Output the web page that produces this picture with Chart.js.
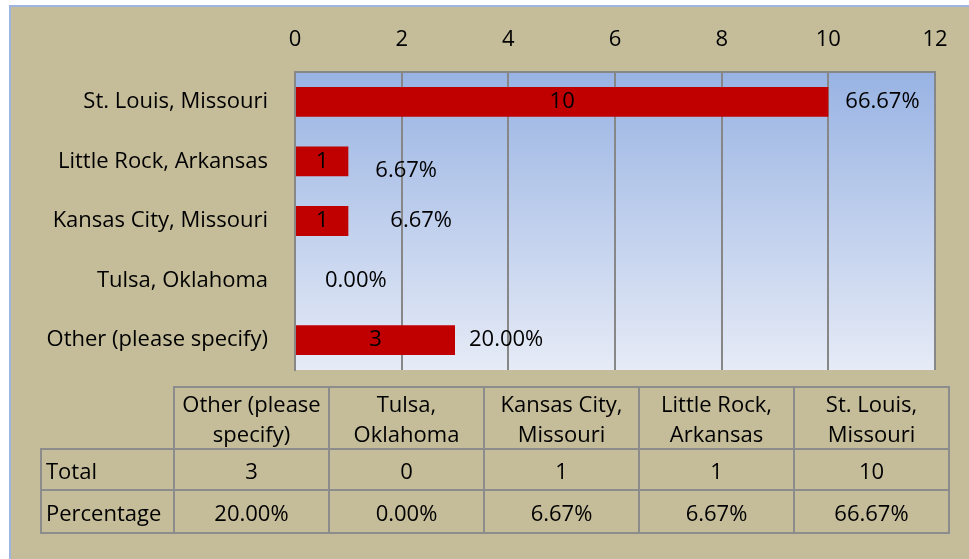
<!DOCTYPE html>
<html>
<head>
<meta charset="utf-8">
<script src="https://cdn.jsdelivr.net/npm/chart.js@4"></script>
<style>
    body { margin: 0; background: #ffffff; }
    #wrap { position: relative; width: 969px; height: 559px; overflow: hidden; }
    #frame { position: absolute; left: 9px; top: 5px; right: 0; bottom: 0;
             background: #c5bd99; border-left: 2px solid #9db5e0; border-top: 2px solid #9db5e0; }
    #myChart { position: absolute; left: 0; top: 0; }
    #dataTable { position: absolute; left: 40px; top: 386px; width: 910px; table-layout: fixed;
                 border-collapse: collapse; font-family: "Open Sans", sans-serif; font-size: 22px; color: #000; }
    #dataTable td { border: 2px solid #8c8c8c; text-align: center; padding: 0; line-height: 30px; white-space: nowrap; }
    #dataTable td.rowHead { text-align: left; padding-left: 4px; }
    #dataTable td.blank { border: none; }
</style>
</head>
<body>
<div id="wrap">
    <div id="frame"></div>
    <canvas id="myChart" width="969" height="559"></canvas>
    <table id="dataTable"></table>
</div>
<script>
// data
const categories = ['St. Louis, Missouri', 'Little Rock, Arkansas', 'Kansas City, Missouri', 'Tulsa, Oklahoma', 'Other (please specify)'];
const totals = [10, 1, 1, 0, 3];
const percentages = [66.67, 6.67, 6.67, 0.00, 20.00];
const tableHeaders = ['St. Louis,|Missouri', 'Little Rock,|Arkansas', 'Kansas City,|Missouri', 'Tulsa,|Oklahoma', 'Other (please|specify)'];
const axisTicks = [0, 2, 4, 6, 8, 10, 12];

const fontFamily = '"Open Sans", sans-serif';

// nudges for the percentage labels (they sit a bit off in the original)
const pctOffsets = [[17, 0], [27, 9], [42, 0], [30, 0], [14, 0]];

const plotBackground = {
    id: 'plotBackground',
    beforeDraw(chart) {
        const ctx = chart.ctx;
        const a = chart.chartArea;
        const g = ctx.createLinearGradient(0, a.top, 0, a.bottom);
        g.addColorStop(0, '#98b3e3');
        g.addColorStop(1, '#e6ebf6');
        ctx.save();
        ctx.fillStyle = g;
        ctx.fillRect(a.left, a.top, a.right - a.left, a.bottom - a.top);
        ctx.restore();
    }
};

const barLabels = {
    id: 'barLabels',
    afterDatasetsDraw(chart) {
        const ctx = chart.ctx;
        const meta = chart.getDatasetMeta(0);
        ctx.save();
        ctx.font = '22px ' + fontFamily;
        ctx.fillStyle = '#000';
        ctx.textBaseline = 'middle';
        meta.data.forEach(function (bar, i) {
            if (totals[i] > 0) {
                ctx.textAlign = 'center';
                ctx.fillText(String(totals[i]), (bar.x + bar.base) / 2, bar.y);
            }
            ctx.textAlign = 'left';
            const off = pctOffsets[i];
            ctx.fillText(percentages[i].toFixed(2) + '%', bar.x + off[0], bar.y + off[1]);
        });
        ctx.restore();
    }
};

function showChart() {
    const ctx = document.getElementById('myChart');
    const myChart = new Chart(ctx, {
        type: 'bar',
        data: {
            labels: categories,
            datasets: [{
                label: 'Total',
                data: totals,
                backgroundColor: '#c00000',
                barPercentage: 0.5,
                categoryPercentage: 1
            }]
        },
        options: {
            responsive: false,
            animation: false,
            indexAxis: 'y',
            layout: { padding: { left: 0, right: 34, top: 0, bottom: 189 } },
            plugins: {
                legend: { display: false },
                tooltip: { enabled: false }
            },
            scales: {
                x: {
                    position: 'top',
                    min: 0,
                    max: 12,
                    afterBuildTicks: function (s) {
                        s.ticks = axisTicks.map(v => ({ value: v }));
                    },
                    afterFit: function (s) { s.height = 72; },
                    ticks: { color: '#000', font: { family: fontFamily, size: 22 }, padding: 19 },
                    grid: { color: '#878787', lineWidth: 2, drawTicks: false },
                    border: { color: '#878787', width: 2 }
                },
                y: {
                    afterFit: function (s) { s.width = 295; },
                    ticks: { color: '#000', font: { family: fontFamily, size: 22 }, padding: 19 },
                    grid: { display: false },
                    border: { color: '#878787', width: 2 }
                }
            }
        },
        plugins: [plotBackground, barLabels]
    });
}

function buildTable() {
    const table = document.getElementById('dataTable');
    const order = categories.map((c, i) => i).reverse();
    let html = '<tr><td class="blank" style="width:132px"></td>';
    order.forEach(function (i) {
        html += '<td style="height:60px">' + tableHeaders[i].split('|').join('<br>') + '</td>';
    });
    html += '</tr><tr><td class="rowHead" style="height:39px">Total</td>';
    order.forEach(function (i) { html += '<td>' + totals[i] + '</td>'; });
    html += '</tr><tr><td class="rowHead" style="height:41px">Percentage</td>';
    order.forEach(function (i) { html += '<td>' + percentages[i].toFixed(2) + '%</td>'; });
    html += '</tr>';
    table.innerHTML = html;
}

showChart();
buildTable();
</script>
</body>
</html>
